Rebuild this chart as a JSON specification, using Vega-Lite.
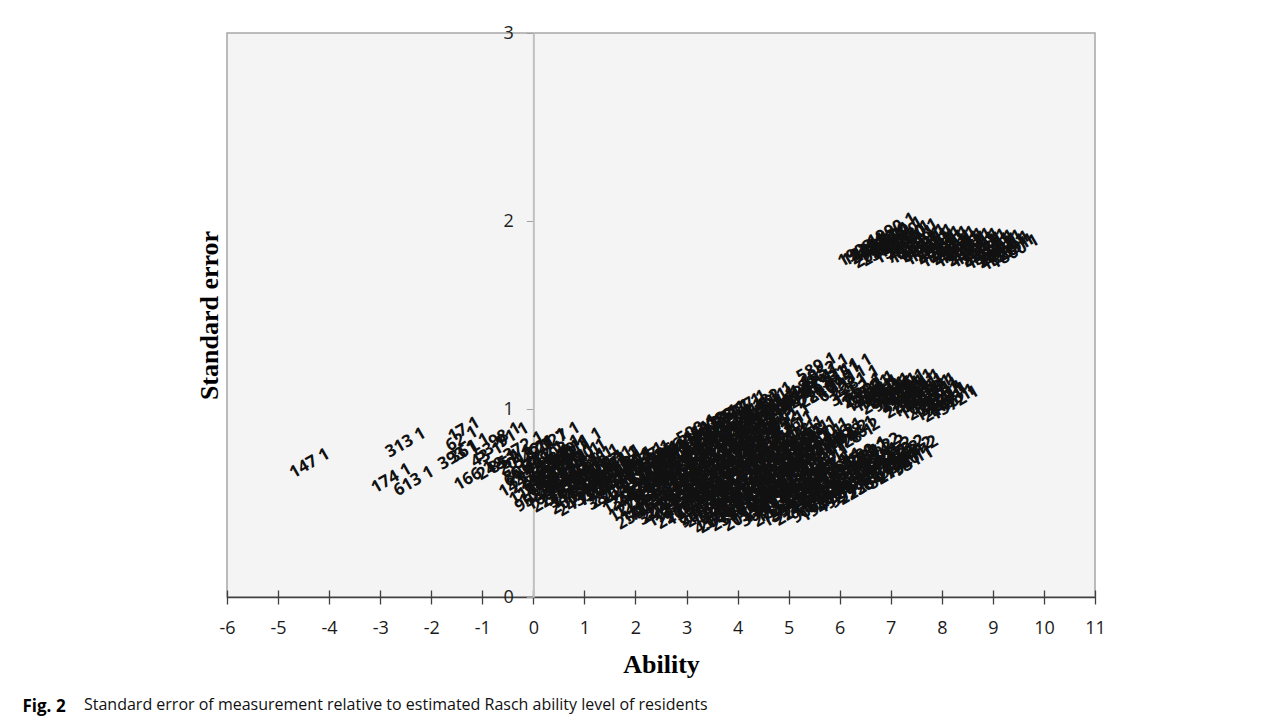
{
  "$schema": "https://vega.github.io/schema/vega-lite/v6.json",
  "width": 868,
  "height": 564,
  "autosize": {"type": "none"},
  "padding": {"left": 227, "top": 33, "right": 192, "bottom": 125},
  "background": "white",
  "config": {
    "view": {"fill": "#f4f4f4", "stroke": "#a6a6a6", "strokeWidth": 1.5},
    "font": "Open Sans",
    "axis": {"grid": false}
  },
  "title": {
    "text": "Standard error of measurement relative to estimated Rasch ability level of residents",
    "orient": "bottom",
    "anchor": "start",
    "frame": "group",
    "dx": -143,
    "offset": -17,
    "font": "Open Sans",
    "fontSize": 16,
    "fontWeight": "normal",
    "color": "#111111"
  },
  "datasets": {
    "low": [
      {"a": -4.38, "s": 0.71, "l": "147 1"},
      {"a": -2.5, "s": 0.82, "l": "313 1"},
      {"a": -2.78, "s": 0.63, "l": "174 1"},
      {"a": -2.34, "s": 0.615, "l": "613 1"},
      {"a": -1.36, "s": 0.89, "l": "17 1"},
      {"a": -1.4, "s": 0.84, "l": "62 1"},
      {"a": -1.47, "s": 0.755, "l": "393 1"},
      {"a": -1.25, "s": 0.79, "l": "361 1"},
      {"a": -0.91, "s": 0.755, "l": "43 1"},
      {"a": -0.84, "s": 0.79, "l": "53 1"},
      {"a": -0.56, "s": 0.86, "l": "98 1"},
      {"a": -0.4, "s": 0.86, "l": "91 1"},
      {"a": -1.16, "s": 0.645, "l": "166 1"},
      {"a": -0.71, "s": 0.7, "l": "248 1"},
      {"a": -0.56, "s": 0.72, "l": "85 1"},
      {"a": -0.32, "s": 0.745, "l": "52 1"},
      {"a": -0.26, "s": 0.65, "l": "61 1"},
      {"a": 0.09, "s": 0.79, "l": "22 1"},
      {"a": 0.52, "s": 0.85, "l": "127 1"},
      {"a": 0.35, "s": 0.83, "l": "21 1"},
      {"a": 0.03, "s": 0.53, "l": "958 1"},
      {"a": 0.52, "s": 0.6, "l": "272 1"},
      {"a": 0.81, "s": 0.53, "l": "2009 1"},
      {"a": 0.28, "s": 0.66, "l": "35 1"},
      {"a": -0.05, "s": 0.7, "l": "619 1"},
      {"a": 0.1, "s": 0.62, "l": "64 1"},
      {"a": 0.95, "s": 0.82, "l": "311 1"},
      {"a": 0.75, "s": 0.76, "l": "117 1"},
      {"a": -0.2, "s": 0.62, "l": "1447 1"},
      {"a": -0.18, "s": 0.68, "l": "806 1"},
      {"a": -0.21, "s": 0.74, "l": "2013 1"},
      {"a": -0.19, "s": 0.8, "l": "372 1"},
      {"a": 0.0, "s": 0.58, "l": "1185 1"},
      {"a": 0.02, "s": 0.64, "l": "2276 1"},
      {"a": 0.0, "s": 0.76, "l": "549 1"},
      {"a": 0.2, "s": 0.57, "l": "1021 1"},
      {"a": 0.22, "s": 0.63, "l": "845 1"},
      {"a": 0.19, "s": 0.69, "l": "1733 1"},
      {"a": 0.21, "s": 0.75, "l": "412 1"},
      {"a": 0.33, "s": 0.55, "l": "1604 1"},
      {"a": 0.35, "s": 0.61, "l": "938 1"},
      {"a": 0.32, "s": 0.67, "l": "2351 1"},
      {"a": 0.34, "s": 0.73, "l": "181 1"},
      {"a": 0.45, "s": 0.54, "l": "2210 1"},
      {"a": 0.47, "s": 0.6, "l": "96 1"},
      {"a": 0.44, "s": 0.66, "l": "1587 1"},
      {"a": 0.46, "s": 0.72, "l": "730 1"},
      {"a": 0.45, "s": 0.77, "l": "1902 1"},
      {"a": 0.58, "s": 0.57, "l": "1277 1"},
      {"a": 0.6, "s": 0.63, "l": "453 1"},
      {"a": 0.57, "s": 0.69, "l": "2098 1"},
      {"a": 0.59, "s": 0.75, "l": "1160 1"},
      {"a": 0.7, "s": 0.55, "l": "354 1"},
      {"a": 0.72, "s": 0.61, "l": "2076 1"},
      {"a": 0.69, "s": 0.67, "l": "618 1"},
      {"a": 0.71, "s": 0.73, "l": "1345 1"},
      {"a": 0.7, "s": 0.78, "l": "889 1"},
      {"a": 0.83, "s": 0.56, "l": "1735 1"},
      {"a": 0.85, "s": 0.62, "l": "264 1"},
      {"a": 0.82, "s": 0.68, "l": "2419 1"},
      {"a": 0.84, "s": 0.73, "l": "1051 1"},
      {"a": 0.95, "s": 0.52, "l": "2431 1"},
      {"a": 0.97, "s": 0.58, "l": "1199 1"},
      {"a": 0.94, "s": 0.64, "l": "503 1"},
      {"a": 0.96, "s": 0.7, "l": "1768 1"},
      {"a": 0.95, "s": 0.75, "l": "2290 1"},
      {"a": 1.08, "s": 0.55, "l": "719 1"},
      {"a": 1.1, "s": 0.6, "l": "1892 1"},
      {"a": 1.07, "s": 0.66, "l": "335 1"},
      {"a": 1.09, "s": 0.71, "l": "2165 1"},
      {"a": 1.2, "s": 0.55, "l": "77 1"},
      {"a": 1.22, "s": 0.61, "l": "1456 1"},
      {"a": 1.19, "s": 0.67, "l": "962 1"},
      {"a": 1.21, "s": 0.72, "l": "2345 1"},
      {"a": 1.33, "s": 0.57, "l": "1528 1"},
      {"a": 1.35, "s": 0.63, "l": "644 1"},
      {"a": 1.32, "s": 0.69, "l": "1979 1"},
      {"a": 1.45, "s": 0.54, "l": "381 1"},
      {"a": 1.47, "s": 0.6, "l": "1623 1"},
      {"a": 1.44, "s": 0.66, "l": "705 1"},
      {"a": 1.46, "s": 0.71, "l": "1987 1"},
      {"a": 1.58, "s": 0.56, "l": "2305 1"},
      {"a": 1.6, "s": 0.62, "l": "1093 1"},
      {"a": 1.57, "s": 0.67, "l": "487 2"},
      {"a": 1.59, "s": 0.71, "l": "1741 1"},
      {"a": 1.7, "s": 0.57, "l": "268 1"},
      {"a": 1.72, "s": 0.63, "l": "2118 1"},
      {"a": 1.69, "s": 0.69, "l": "1534 1"},
      {"a": 1.71, "s": 0.73, "l": "841 1"},
      {"a": 1.83, "s": 0.53, "l": "1366 1"},
      {"a": 1.85, "s": 0.59, "l": "2229 1"},
      {"a": 1.82, "s": 0.65, "l": "575 1"},
      {"a": 1.84, "s": 0.7, "l": "1818 1"},
      {"a": 1.95, "s": 0.49, "l": "1279 1"},
      {"a": 1.97, "s": 0.55, "l": "2402 1"},
      {"a": 1.94, "s": 0.61, "l": "59 1"},
      {"a": 1.96, "s": 0.67, "l": "1812 1"},
      {"a": 1.95, "s": 0.72, "l": "934 1"},
      {"a": 2.08, "s": 0.51, "l": "1126 1"},
      {"a": 2.1, "s": 0.57, "l": "2484 1"},
      {"a": 2.07, "s": 0.63, "l": "312 1"},
      {"a": 2.09, "s": 0.69, "l": "1673 1"},
      {"a": 2.08, "s": 0.73, "l": "1004 1"},
      {"a": 2.1, "s": 0.45, "l": "2500 1"},
      {"a": 2.2, "s": 0.48, "l": "1407 1"},
      {"a": 2.22, "s": 0.53, "l": "2261 1"},
      {"a": 2.19, "s": 0.59, "l": "476 1"},
      {"a": 2.21, "s": 0.65, "l": "1690 1"},
      {"a": 2.2, "s": 0.7, "l": "1114 1"},
      {"a": 2.22, "s": 0.74, "l": "2037 1"},
      {"a": 2.33, "s": 0.49, "l": "1851 1"},
      {"a": 2.35, "s": 0.55, "l": "765 1"},
      {"a": 2.32, "s": 0.61, "l": "2326 1"},
      {"a": 2.34, "s": 0.67, "l": "1412 1"},
      {"a": 2.33, "s": 0.72, "l": "598 1"},
      {"a": 2.45, "s": 0.46, "l": "327 1"},
      {"a": 2.47, "s": 0.52, "l": "1571 1"},
      {"a": 2.44, "s": 0.58, "l": "798 1"},
      {"a": 2.46, "s": 0.64, "l": "2189 1"},
      {"a": 2.45, "s": 0.7, "l": "1243 1"},
      {"a": 2.47, "s": 0.75, "l": "655 1"},
      {"a": 2.58, "s": 0.48, "l": "2044 1"},
      {"a": 2.6, "s": 0.54, "l": "1306 1"},
      {"a": 2.57, "s": 0.6, "l": "871 1"},
      {"a": 2.59, "s": 0.66, "l": "2412 1"},
      {"a": 2.58, "s": 0.72, "l": "1589 1"},
      {"a": 2.6, "s": 0.76, "l": "246 1"},
      {"a": 2.7, "s": 0.46, "l": "1945 1"},
      {"a": 2.72, "s": 0.51, "l": "188 1"},
      {"a": 2.69, "s": 0.57, "l": "2367 1"},
      {"a": 2.71, "s": 0.63, "l": "1088 1"},
      {"a": 2.7, "s": 0.69, "l": "1502 1"},
      {"a": 2.72, "s": 0.75, "l": "433 1"},
      {"a": 2.7, "s": 0.79, "l": "1856 1"},
      {"a": 2.8, "s": 0.44, "l": "226 1"},
      {"a": 2.83, "s": 0.48, "l": "1711 1"},
      {"a": 2.85, "s": 0.54, "l": "1029 1"},
      {"a": 2.82, "s": 0.6, "l": "2188 1"},
      {"a": 2.84, "s": 0.66, "l": "463 1"},
      {"a": 2.83, "s": 0.72, "l": "1554 1"},
      {"a": 2.85, "s": 0.78, "l": "2279 1"},
      {"a": 2.95, "s": 0.47, "l": "972 1"},
      {"a": 2.97, "s": 0.52, "l": "2254 1"},
      {"a": 2.94, "s": 0.58, "l": "611 1"},
      {"a": 2.96, "s": 0.64, "l": "1319 1"},
      {"a": 2.95, "s": 0.7, "l": "2085 1"},
      {"a": 2.97, "s": 0.76, "l": "214 1"},
      {"a": 2.95, "s": 0.81, "l": "1747 1"},
      {"a": 3.08, "s": 0.47, "l": "1383 1"},
      {"a": 3.1, "s": 0.54, "l": "744 1"},
      {"a": 3.07, "s": 0.6, "l": "2138 1"},
      {"a": 3.09, "s": 0.66, "l": "1205 1"},
      {"a": 3.08, "s": 0.72, "l": "396 1"},
      {"a": 3.1, "s": 0.78, "l": "1916 1"},
      {"a": 3.08, "s": 0.83, "l": "1462 1"},
      {"a": 3.26, "s": 0.445, "l": "963 1"},
      {"a": 3.2, "s": 0.51, "l": "1036 1"},
      {"a": 3.22, "s": 0.57, "l": "2471 1"},
      {"a": 3.19, "s": 0.63, "l": "569 1"},
      {"a": 3.21, "s": 0.69, "l": "1388 1"},
      {"a": 3.2, "s": 0.75, "l": "1921 1"},
      {"a": 3.22, "s": 0.81, "l": "302 1"},
      {"a": 3.33, "s": 0.47, "l": "2355 1"},
      {"a": 3.35, "s": 0.53, "l": "1175 1"},
      {"a": 3.32, "s": 0.59, "l": "680 1"},
      {"a": 3.34, "s": 0.65, "l": "1744 1"},
      {"a": 3.33, "s": 0.71, "l": "2492 1"},
      {"a": 3.35, "s": 0.77, "l": "1061 1"},
      {"a": 3.33, "s": 0.83, "l": "528 1"},
      {"a": 3.55, "s": 0.41, "l": "451 1"},
      {"a": 3.45, "s": 0.46, "l": "2142 1"},
      {"a": 3.47, "s": 0.5, "l": "858 1"},
      {"a": 3.44, "s": 0.56, "l": "1605 1"},
      {"a": 3.46, "s": 0.62, "l": "1167 1"},
      {"a": 3.45, "s": 0.68, "l": "2319 1"},
      {"a": 3.47, "s": 0.74, "l": "741 1"},
      {"a": 3.45, "s": 0.8, "l": "1483 1"},
      {"a": 3.46, "s": 0.86, "l": "126 1"},
      {"a": 3.58, "s": 0.46, "l": "1947 1"},
      {"a": 3.6, "s": 0.52, "l": "1233 1"},
      {"a": 3.57, "s": 0.58, "l": "409 1"},
      {"a": 3.59, "s": 0.64, "l": "2268 1"},
      {"a": 3.58, "s": 0.7, "l": "1518 1"},
      {"a": 3.6, "s": 0.76, "l": "893 1"},
      {"a": 3.58, "s": 0.82, "l": "2053 1"},
      {"a": 3.59, "s": 0.88, "l": "1301 1"},
      {"a": 3.7, "s": 0.43, "l": "2006 1"},
      {"a": 3.72, "s": 0.49, "l": "927 1"},
      {"a": 3.69, "s": 0.55, "l": "1262 1"},
      {"a": 3.71, "s": 0.61, "l": "1798 1"},
      {"a": 3.7, "s": 0.67, "l": "389 1"},
      {"a": 3.72, "s": 0.73, "l": "2223 1"},
      {"a": 3.7, "s": 0.79, "l": "1549 1"},
      {"a": 3.71, "s": 0.85, "l": "678 1"},
      {"a": 3.7, "s": 0.91, "l": "1072 1"},
      {"a": 3.83, "s": 0.46, "l": "1683 1"},
      {"a": 3.85, "s": 0.52, "l": "2446 1"},
      {"a": 3.82, "s": 0.58, "l": "757 1"},
      {"a": 3.84, "s": 0.64, "l": "1394 1"},
      {"a": 3.83, "s": 0.7, "l": "2121 1"},
      {"a": 3.85, "s": 0.76, "l": "1026 1"},
      {"a": 3.83, "s": 0.82, "l": "284 1"},
      {"a": 3.84, "s": 0.88, "l": "1869 1"},
      {"a": 3.83, "s": 0.93, "l": "1237 1"},
      {"a": 3.95, "s": 0.44, "l": "2398 1"},
      {"a": 3.97, "s": 0.5, "l": "455 1"},
      {"a": 3.94, "s": 0.56, "l": "1831 1"},
      {"a": 3.96, "s": 0.62, "l": "1215 1"},
      {"a": 3.95, "s": 0.68, "l": "2167 1"},
      {"a": 3.97, "s": 0.74, "l": "593 1"},
      {"a": 3.95, "s": 0.8, "l": "1364 1"},
      {"a": 3.96, "s": 0.86, "l": "1960 1"},
      {"a": 3.95, "s": 0.92, "l": "241 1"},
      {"a": 4.08, "s": 0.47, "l": "1577 1"},
      {"a": 4.1, "s": 0.53, "l": "2309 1"},
      {"a": 4.07, "s": 0.59, "l": "662 1"},
      {"a": 4.09, "s": 0.65, "l": "1441 1"},
      {"a": 4.08, "s": 0.71, "l": "1018 1"},
      {"a": 4.1, "s": 0.77, "l": "2172 1"},
      {"a": 4.08, "s": 0.83, "l": "1808 1"},
      {"a": 4.09, "s": 0.89, "l": "347 1"},
      {"a": 4.08, "s": 0.95, "l": "1629 1"},
      {"a": 4.2, "s": 0.44, "l": "2051 1"},
      {"a": 4.22, "s": 0.5, "l": "815 1"},
      {"a": 4.19, "s": 0.56, "l": "1437 1"},
      {"a": 4.21, "s": 0.62, "l": "1110 1"},
      {"a": 4.2, "s": 0.68, "l": "2283 1"},
      {"a": 4.22, "s": 0.74, "l": "512 1"},
      {"a": 4.2, "s": 0.8, "l": "1708 1"},
      {"a": 4.21, "s": 0.86, "l": "987 1"},
      {"a": 4.2, "s": 0.93, "l": "2414 1"},
      {"a": 4.33, "s": 0.47, "l": "1142 1"},
      {"a": 4.35, "s": 0.53, "l": "1952 1"},
      {"a": 4.32, "s": 0.59, "l": "435 1"},
      {"a": 4.34, "s": 0.65, "l": "2249 1"},
      {"a": 4.33, "s": 0.71, "l": "1376 1"},
      {"a": 4.35, "s": 0.77, "l": "788 1"},
      {"a": 4.33, "s": 0.83, "l": "1612 1"},
      {"a": 4.34, "s": 0.89, "l": "2406 1"},
      {"a": 4.33, "s": 0.96, "l": "1090 1"},
      {"a": 4.45, "s": 0.45, "l": "360 1"},
      {"a": 4.47, "s": 0.51, "l": "1653 1"},
      {"a": 4.44, "s": 0.57, "l": "1296 1"},
      {"a": 4.46, "s": 0.63, "l": "1885 1"},
      {"a": 4.45, "s": 0.69, "l": "703 1"},
      {"a": 4.47, "s": 0.75, "l": "2132 1"},
      {"a": 4.45, "s": 0.81, "l": "449 1"},
      {"a": 4.46, "s": 0.87, "l": "1520 1"},
      {"a": 4.45, "s": 0.93, "l": "1003 1"},
      {"a": 4.44, "s": 0.98, "l": "2336 1"},
      {"a": 4.58, "s": 0.48, "l": "1799 1"},
      {"a": 4.6, "s": 0.54, "l": "1226 1"},
      {"a": 4.57, "s": 0.6, "l": "2081 1"},
      {"a": 4.59, "s": 0.66, "l": "618 2"},
      {"a": 4.58, "s": 0.72, "l": "1459 1"},
      {"a": 4.6, "s": 0.78, "l": "2364 1"},
      {"a": 4.58, "s": 0.84, "l": "1053 1"},
      {"a": 4.59, "s": 0.9, "l": "1731 1"},
      {"a": 4.58, "s": 0.96, "l": "518 1"},
      {"a": 4.7, "s": 0.45, "l": "277 1"},
      {"a": 4.72, "s": 0.51, "l": "1777 1"},
      {"a": 4.69, "s": 0.57, "l": "1181 1"},
      {"a": 4.71, "s": 0.63, "l": "1966 1"},
      {"a": 4.7, "s": 0.69, "l": "632 1"},
      {"a": 4.72, "s": 0.75, "l": "2240 1"},
      {"a": 4.7, "s": 0.81, "l": "1419 1"},
      {"a": 4.71, "s": 0.87, "l": "874 1"},
      {"a": 4.7, "s": 0.93, "l": "2097 1"},
      {"a": 4.69, "s": 0.99, "l": "169 1"},
      {"a": 4.83, "s": 0.48, "l": "1335 1"},
      {"a": 4.85, "s": 0.54, "l": "2198 1"},
      {"a": 4.82, "s": 0.6, "l": "966 1"},
      {"a": 4.84, "s": 0.66, "l": "1602 1"},
      {"a": 4.83, "s": 0.72, "l": "2433 1"},
      {"a": 4.85, "s": 0.78, "l": "1188 1"},
      {"a": 4.83, "s": 0.84, "l": "407 1"},
      {"a": 4.84, "s": 0.9, "l": "1872 1"},
      {"a": 4.83, "s": 0.97, "l": "1259 1"},
      {"a": 4.95, "s": 0.46, "l": "1592 1"},
      {"a": 4.97, "s": 0.52, "l": "1139 1"},
      {"a": 4.94, "s": 0.58, "l": "2452 1"},
      {"a": 4.96, "s": 0.64, "l": "538 1"},
      {"a": 4.95, "s": 0.7, "l": "1823 1"},
      {"a": 4.97, "s": 0.76, "l": "1337 1"},
      {"a": 4.95, "s": 0.82, "l": "2178 1"},
      {"a": 4.96, "s": 0.88, "l": "761 1"},
      {"a": 4.95, "s": 0.94, "l": "1012 1"},
      {"a": 5.08, "s": 0.49, "l": "2042 1"},
      {"a": 5.1, "s": 0.55, "l": "1495 1"},
      {"a": 5.07, "s": 0.61, "l": "852 1"},
      {"a": 5.09, "s": 0.67, "l": "1706 1"},
      {"a": 5.08, "s": 0.73, "l": "2285 1"},
      {"a": 5.1, "s": 0.79, "l": "1067 1"},
      {"a": 5.08, "s": 0.85, "l": "1914 1"},
      {"a": 5.09, "s": 0.91, "l": "626 1"},
      {"a": 5.2, "s": 0.47, "l": "2274 1"},
      {"a": 5.22, "s": 0.53, "l": "417 1"},
      {"a": 5.19, "s": 0.59, "l": "1667 1"},
      {"a": 5.21, "s": 0.65, "l": "1230 1"},
      {"a": 5.2, "s": 0.71, "l": "1909 1"},
      {"a": 5.22, "s": 0.77, "l": "580 1"},
      {"a": 5.2, "s": 0.83, "l": "2016 1"},
      {"a": 5.21, "s": 0.87, "l": "1478 1"},
      {"a": 5.33, "s": 0.5, "l": "1154 1"},
      {"a": 5.35, "s": 0.56, "l": "2379 1"},
      {"a": 5.32, "s": 0.62, "l": "1540 1"},
      {"a": 5.34, "s": 0.68, "l": "710 1"},
      {"a": 5.33, "s": 0.74, "l": "1991 1"},
      {"a": 5.35, "s": 0.8, "l": "1248 1"},
      {"a": 5.33, "s": 0.85, "l": "2135 1"},
      {"a": 5.45, "s": 0.47, "l": "906 1"},
      {"a": 5.47, "s": 0.53, "l": "2385 1"},
      {"a": 5.44, "s": 0.59, "l": "233 1"},
      {"a": 5.46, "s": 0.65, "l": "1724 1"},
      {"a": 5.45, "s": 0.71, "l": "1155 1"},
      {"a": 5.47, "s": 0.77, "l": "2203 1"},
      {"a": 5.45, "s": 0.83, "l": "689 1"},
      {"a": 5.46, "s": 0.87, "l": "1398 1"},
      {"a": 5.58, "s": 0.51, "l": "1848 1"},
      {"a": 5.6, "s": 0.57, "l": "1017 1"},
      {"a": 5.57, "s": 0.63, "l": "2421 1"},
      {"a": 5.59, "s": 0.69, "l": "1564 1"},
      {"a": 5.58, "s": 0.75, "l": "496 1"},
      {"a": 5.6, "s": 0.83, "l": "1787 1"},
      {"a": 5.7, "s": 0.49, "l": "1941 1"},
      {"a": 5.72, "s": 0.55, "l": "318 1"},
      {"a": 5.69, "s": 0.61, "l": "2062 1"},
      {"a": 5.71, "s": 0.67, "l": "1071 1"},
      {"a": 5.7, "s": 0.73, "l": "1566 1"},
      {"a": 5.72, "s": 0.8, "l": "829 1"},
      {"a": 5.7, "s": 0.86, "l": "2300 1"},
      {"a": 5.83, "s": 0.53, "l": "1209 1"},
      {"a": 5.85, "s": 0.59, "l": "2157 1"},
      {"a": 5.82, "s": 0.65, "l": "1642 1"},
      {"a": 5.84, "s": 0.7, "l": "937 1"},
      {"a": 5.83, "s": 0.83, "l": "2226 2"},
      {"a": 5.95, "s": 0.52, "l": "492 1"},
      {"a": 5.97, "s": 0.58, "l": "1859 1"},
      {"a": 5.94, "s": 0.64, "l": "1251 1"},
      {"a": 5.96, "s": 0.7, "l": "2159 1"},
      {"a": 5.95, "s": 0.8, "l": "607 1"},
      {"a": 5.97, "s": 0.86, "l": "1446 1"},
      {"a": 6.08, "s": 0.56, "l": "1380 1"},
      {"a": 6.1, "s": 0.62, "l": "2011 1"},
      {"a": 6.07, "s": 0.68, "l": "1094 1"},
      {"a": 6.09, "s": 0.85, "l": "1803 2"},
      {"a": 6.2, "s": 0.55, "l": "999 1"},
      {"a": 6.22, "s": 0.61, "l": "2427 1"},
      {"a": 6.19, "s": 0.67, "l": "371 1"},
      {"a": 6.21, "s": 0.72, "l": "1685 1"},
      {"a": 6.2, "s": 0.83, "l": "1128 1"},
      {"a": 6.22, "s": 0.87, "l": "1978 1"},
      {"a": 6.33, "s": 0.6, "l": "1471 1"},
      {"a": 6.35, "s": 0.66, "l": "2392 2"},
      {"a": 6.32, "s": 0.72, "l": "1136 1"},
      {"a": 6.39, "s": 0.87, "l": "746 2"},
      {"a": 6.45, "s": 0.58, "l": "2233 1"},
      {"a": 6.47, "s": 0.64, "l": "1313 1"},
      {"a": 6.44, "s": 0.7, "l": "863 1"},
      {"a": 6.46, "s": 0.76, "l": "2109 1"},
      {"a": 6.58, "s": 0.63, "l": "1827 1"},
      {"a": 6.6, "s": 0.69, "l": "1044 2"},
      {"a": 6.57, "s": 0.75, "l": "2257 2"},
      {"a": 6.7, "s": 0.62, "l": "204 1"},
      {"a": 6.72, "s": 0.67, "l": "1617 1"},
      {"a": 6.69, "s": 0.73, "l": "1059 1"},
      {"a": 6.71, "s": 0.78, "l": "2362 2"},
      {"a": 6.83, "s": 0.66, "l": "1588 1"},
      {"a": 6.85, "s": 0.72, "l": "2047 2"},
      {"a": 6.82, "s": 0.77, "l": "1208 2"},
      {"a": 6.95, "s": 0.65, "l": "527 1"},
      {"a": 6.97, "s": 0.71, "l": "1796 1"},
      {"a": 6.94, "s": 0.76, "l": "1284 2"},
      {"a": 7.08, "s": 0.69, "l": "1935 1"},
      {"a": 7.1, "s": 0.74, "l": "1162 2"},
      {"a": 7.2, "s": 0.69, "l": "2194 1"},
      {"a": 7.22, "s": 0.73, "l": "669 1"},
      {"a": 7.19, "s": 0.77, "l": "1429 2"},
      {"a": 7.33, "s": 0.72, "l": "1760 1"},
      {"a": 7.35, "s": 0.76, "l": "2318 2"},
      {"a": 7.45, "s": 0.72, "l": "951 1"},
      {"a": 7.45, "s": 0.765, "l": "2441 2"},
      {"a": 3.2, "s": 0.89, "l": "500 1"},
      {"a": 3.4, "s": 0.9, "l": "1633 1"},
      {"a": 3.55, "s": 0.93, "l": "1418 1"},
      {"a": 3.7, "s": 0.95, "l": "2088 1"},
      {"a": 3.85, "s": 0.97, "l": "822 1"},
      {"a": 4.0, "s": 0.99, "l": "1547 1"},
      {"a": 4.18, "s": 1.02, "l": "487 1"},
      {"a": 4.35, "s": 1.0, "l": "2014 1"},
      {"a": 4.5, "s": 1.02, "l": "1640 1"},
      {"a": 4.6, "s": 1.05, "l": "1182 1"},
      {"a": 4.75, "s": 1.04, "l": "733 1"},
      {"a": 4.9, "s": 1.02, "l": "2359 1"},
      {"a": 5.02, "s": 1.05, "l": "1361 1"},
      {"a": 5.15, "s": 1.04, "l": "1427 1"},
      {"a": 5.25, "s": 1.07, "l": "904 1"},
      {"a": 5.35, "s": 1.09, "l": "2143 1"},
      {"a": 5.4, "s": 1.12, "l": "1207 1"},
      {"a": 5.5, "s": 1.15, "l": "1896 1"},
      {"a": 5.55, "s": 1.22, "l": "589 1"},
      {"a": 5.6, "s": 1.08, "l": "281 1"},
      {"a": 5.7, "s": 1.2, "l": "1052 1"},
      {"a": 5.75, "s": 1.15, "l": "1533 1"},
      {"a": 5.85, "s": 1.12, "l": "2407 1"},
      {"a": 5.9, "s": 1.1, "l": "67 1"},
      {"a": 6.0, "s": 1.19, "l": "131 1"},
      {"a": 6.05, "s": 1.14, "l": "1695 1"},
      {"a": 6.16, "s": 1.2, "l": "1151 1"},
      {"a": 6.2, "s": 1.09, "l": "351 1"},
      {"a": 6.3, "s": 1.14, "l": "2281 1"},
      {"a": 6.35, "s": 1.1, "l": "1352 1"},
      {"a": 6.45, "s": 1.08, "l": "295 1"},
      {"a": 6.52, "s": 1.09, "l": "1874 1"},
      {"a": 6.6, "s": 1.07, "l": "1740 1"},
      {"a": 6.6, "s": 1.11, "l": "1192 1"},
      {"a": 6.68, "s": 1.09, "l": "2023 1"},
      {"a": 6.75, "s": 1.07, "l": "1934 1"},
      {"a": 6.75, "s": 1.1, "l": "584 1"},
      {"a": 6.83, "s": 1.08, "l": "1499 1"},
      {"a": 6.9, "s": 1.06, "l": "2071 1"},
      {"a": 6.9, "s": 1.1, "l": "1372 1"},
      {"a": 6.98, "s": 1.08, "l": "1106 1"},
      {"a": 7.05, "s": 1.06, "l": "916 1"},
      {"a": 7.05, "s": 1.1, "l": "2311 1"},
      {"a": 7.13, "s": 1.08, "l": "1763 1"},
      {"a": 7.2, "s": 1.05, "l": "458 1"},
      {"a": 7.2, "s": 1.09, "l": "1637 1"},
      {"a": 7.2, "s": 1.12, "l": "1046 1"},
      {"a": 7.28, "s": 1.07, "l": "2433 0"},
      {"a": 7.35, "s": 1.04, "l": "2215 1"},
      {"a": 7.35, "s": 1.08, "l": "722 1"},
      {"a": 7.35, "s": 1.12, "l": "1514 1"},
      {"a": 7.42, "s": 1.1, "l": "1280 1"},
      {"a": 7.5, "s": 1.04, "l": "1835 1"},
      {"a": 7.5, "s": 1.08, "l": "339 1"},
      {"a": 7.5, "s": 1.12, "l": "2124 1"},
      {"a": 7.58, "s": 1.06, "l": "1610 1"},
      {"a": 7.65, "s": 1.03, "l": "1098 1"},
      {"a": 7.65, "s": 1.07, "l": "1659 1"},
      {"a": 7.65, "s": 1.11, "l": "811 1"},
      {"a": 7.72, "s": 1.09, "l": "2068 1"},
      {"a": 7.8, "s": 1.03, "l": "2392 1"},
      {"a": 7.8, "s": 1.07, "l": "561 1"},
      {"a": 7.8, "s": 1.1, "l": "1268 1"},
      {"a": 7.88, "s": 1.05, "l": "1923 1"},
      {"a": 7.95, "s": 1.02, "l": "1996 1"},
      {"a": 7.95, "s": 1.06, "l": "1325 1"},
      {"a": 7.95, "s": 1.09, "l": "887 1"},
      {"a": 8.02, "s": 1.05, "l": "2209 1"},
      {"a": 8.1, "s": 1.02, "l": "2146 1"},
      {"a": 8.1, "s": 1.06, "l": "603 1"},
      {"a": 8.18, "s": 1.04, "l": "1488 1"},
      {"a": 8.25, "s": 1.03, "l": "1572 1"}
    ],
    "high": [
      {"a": 6.44, "s": 1.846, "l": "1903 1"},
      {"a": 6.52, "s": 1.85, "l": "1230 1"},
      {"a": 6.6, "s": 1.86, "l": "442 1"},
      {"a": 6.68, "s": 1.86, "l": "2189 1"},
      {"a": 6.75, "s": 1.87, "l": "1718 1"},
      {"a": 6.75, "s": 1.84, "l": "2059 1"},
      {"a": 6.83, "s": 1.875, "l": "1630 1"},
      {"a": 6.9, "s": 1.9, "l": "1004 1"},
      {"a": 6.9, "s": 1.85, "l": "2380 1"},
      {"a": 6.96, "s": 1.91, "l": "880 0"},
      {"a": 7.02, "s": 1.95, "l": "1990 1"},
      {"a": 7.02, "s": 1.87, "l": "560 1"},
      {"a": 7.08, "s": 1.9, "l": "2300 0"},
      {"a": 7.15, "s": 1.93, "l": "2009 1"},
      {"a": 7.15, "s": 1.86, "l": "1350 1"},
      {"a": 7.22, "s": 1.89, "l": "1409 0"},
      {"a": 7.3, "s": 1.91, "l": "1908 1"},
      {"a": 7.3, "s": 1.85, "l": "785 1"},
      {"a": 7.38, "s": 1.885, "l": "2090 1"},
      {"a": 7.45, "s": 1.92, "l": "2200 1"},
      {"a": 7.45, "s": 1.86, "l": "1530 1"},
      {"a": 7.52, "s": 1.875, "l": "1049 1"},
      {"a": 7.6, "s": 1.89, "l": "1809 1"},
      {"a": 7.6, "s": 1.855, "l": "660 1"},
      {"a": 7.68, "s": 1.87, "l": "2240 1"},
      {"a": 7.75, "s": 1.89, "l": "2390 1"},
      {"a": 7.75, "s": 1.85, "l": "1170 1"},
      {"a": 7.82, "s": 1.865, "l": "1390 1"},
      {"a": 7.9, "s": 1.88, "l": "1900 1"},
      {"a": 7.9, "s": 1.85, "l": "880 1"},
      {"a": 7.98, "s": 1.86, "l": "2019 1"},
      {"a": 8.05, "s": 1.88, "l": "2330 1"},
      {"a": 8.05, "s": 1.84, "l": "1260 1"},
      {"a": 8.12, "s": 1.86, "l": "1509 1"},
      {"a": 8.2, "s": 1.88, "l": "1690 1"},
      {"a": 8.2, "s": 1.845, "l": "930 1"},
      {"a": 8.28, "s": 1.855, "l": "2109 1"},
      {"a": 8.35, "s": 1.87, "l": "2080 1"},
      {"a": 8.35, "s": 1.84, "l": "1409 1"},
      {"a": 8.42, "s": 1.855, "l": "1959 1"},
      {"a": 8.5, "s": 1.87, "l": "1770 1"},
      {"a": 8.5, "s": 1.835, "l": "590 1"},
      {"a": 8.58, "s": 1.85, "l": "2309 1"},
      {"a": 8.65, "s": 1.87, "l": "2460 1"},
      {"a": 8.65, "s": 1.84, "l": "1130 1"},
      {"a": 8.72, "s": 1.85, "l": "1609 1"},
      {"a": 8.8, "s": 1.865, "l": "1880 1"},
      {"a": 8.8, "s": 1.83, "l": "820 1"},
      {"a": 8.88, "s": 1.845, "l": "2039 1"},
      {"a": 8.95, "s": 1.86, "l": "2270 1"},
      {"a": 8.95, "s": 1.83, "l": "1590 1"},
      {"a": 9.02, "s": 1.845, "l": "1199 1"},
      {"a": 9.1, "s": 1.86, "l": "1940 1"},
      {"a": 9.1, "s": 1.825, "l": "700 1"},
      {"a": 9.18, "s": 1.84, "l": "2409 1"},
      {"a": 9.25, "s": 1.855, "l": "2150 1"},
      {"a": 9.25, "s": 1.825, "l": "1320 1"},
      {"a": 9.34, "s": 1.84, "l": "1709 1"},
      {"a": 9.43, "s": 1.835, "l": "1860 1"}
    ]
  },
  "layer": [
    {
      "data": {"name": "low"},
      "mark": {"type": "text", "font": "Open Sans", "fontSize": 17, "fontWeight": "bold", "angle": -30, "align": "center", "baseline": "middle", "color": "#111111"},
      "encoding": {
        "x": {
          "field": "a", "type": "quantitative",
          "scale": {"domain": [-6, 11], "nice": false, "zero": false},
          "axis": {
            "orient": "bottom",
            "title": "Ability",
            "titleFont": "Liberation Serif", "titleFontSize": 26, "titleFontWeight": "bold", "titleColor": "#000000", "titlePadding": 14,
            "values": [-6, -5, -4, -3, -2, -1, 0, 1, 2, 3, 4, 5, 6, 7, 8, 9, 10, 11],
            "labelExpr": "datum.value < 0 ? '-' + abs(datum.value) : '' + datum.value",
            "labelFont": "Open Sans", "labelFontSize": 18, "labelColor": "#1a1a1a", "labelPadding": 22,
            "labelFlush": false, "labelOverlap": false,
            "ticks": false, "tickSize": 0,
            "domainColor": "#404040", "domainWidth": 1.5
          }
        },
        "y": {
          "field": "s", "type": "quantitative",
          "scale": {"domain": [0, 3], "nice": false, "zero": false},
          "axis": {
            "orient": "left",
            "title": "Standard error",
            "titleFont": "Liberation Serif", "titleFontSize": 26, "titleFontWeight": "bold", "titleColor": "#000000", "titlePadding": 5,
            "labels": false, "ticks": false, "domain": false
          }
        },
        "text": {"field": "l", "type": "nominal"}
      }
    },
    {
      "data": {"name": "high"},
      "mark": {"type": "text", "font": "Open Sans", "fontSize": 17, "fontWeight": "bold", "angle": -30, "align": "center", "baseline": "middle", "color": "#111111"},
      "encoding": {
        "x": {
          "field": "a", "type": "quantitative",
          "scale": {"domain": [-6, 11], "nice": false, "zero": false},
          "axis": {
            "orient": "bottom",
            "offset": -7,
            "title": "Fig. 2",
            "titleX": -205,
            "titleY": 121,
            "titleAlign": "left",
            "titleBaseline": "alphabetic",
            "titleAngle": 0,
            "titleFont": "Open Sans", "titleFontSize": 17, "titleFontWeight": "bold", "titleColor": "#000000",
            "values": [-6, -5, -4, -3, -2, -1, 0, 1, 2, 3, 4, 5, 6, 7, 8, 9, 10, 11],
            "labels": false,
            "domain": false,
            "tickSize": 14, "tickColor": "#404040", "tickWidth": 1.3
          }
        },
        "y": {
          "field": "s", "type": "quantitative",
          "scale": {"domain": [0, 3], "nice": false, "zero": false},
          "axis": {
            "orient": "left",
            "offset": -306.35,
            "title": null,
            "values": [0, 1, 2, 3],
            "domainColor": "#c0c0c0", "domainWidth": 2,
            "tickColor": "#a0a0a0", "tickSize": 7,
            "labelFont": "Open Sans", "labelFontSize": 18, "labelColor": "#222222", "labelPadding": 13,
            "labelFlush": false
          }
        },
        "text": {"field": "l", "type": "nominal"}
      }
    }
  ],
  "resolve": {"axis": {"x": "independent", "y": "independent"}}
}
